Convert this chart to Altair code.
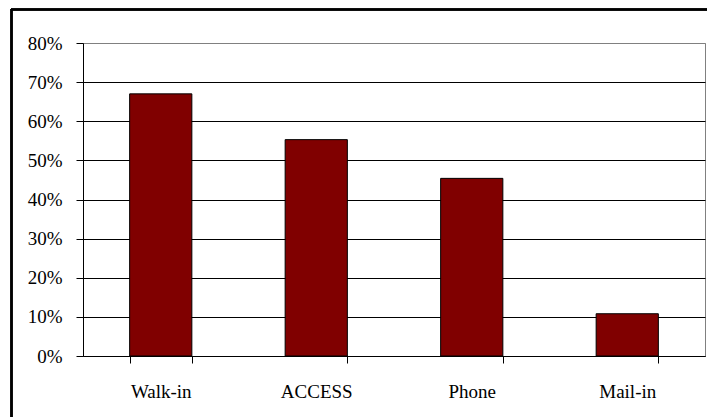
import altair as alt
import pandas as pd

categories = ["Walk-in", "ACCESS", "Phone", "Mail-in"]
shares = [0.670, 0.553, 0.454, 0.108]

df = pd.DataFrame({"channel": categories, "share": shares})

FONT = "Liberation Serif"

bars = alt.Chart(df).mark_bar(
    color="#800000", stroke="black", strokeWidth=1
).encode(
    x=alt.X(
        "channel:N",
        sort=categories,
        title=None,
        scale=alt.Scale(paddingInner=0.6, paddingOuter=0.3),
        axis=alt.Axis(
            labelAngle=0,
            tickBand="extent",
            tickSize=7,
            tickColor="black",
            domainColor="black",
            labelPadding=19,
            labelFont=FONT,
            labelFontSize=19,
            labelColor="black",
            grid=False,
        ),
    ),
    y=alt.Y(
        "share:Q",
        title=None,
        scale=alt.Scale(domain=[0, 0.8], nice=False),
        axis=alt.Axis(
            format=".0%",
            values=[0, 0.1, 0.2, 0.3, 0.4, 0.5, 0.6, 0.7, 0.8],
            tickSize=7,
            tickColor="black",
            domainColor="black",
            gridColor={"condition": {"test": "datum.value >= 0.79", "value": "#808080"}, "value": "black"},
            gridOpacity=1,
            gridWidth=1,
            labelPadding=14,
            labelFont=FONT,
            labelFontSize=19,
            labelColor="black",
        ),
    ),
)

border_top = alt.Chart(df).mark_rule(color="black", strokeWidth=2, clip=False).encode(
    x=alt.value(-72), x2=alt.value(720), y=alt.value(-33.5)
)
border_left = alt.Chart(df).mark_rule(color="black", strokeWidth=2, clip=False).encode(
    x=alt.value(-71.5), y=alt.value(-34), y2=alt.value(400)
)

chart = alt.layer(bars, border_top, border_left).properties(
    width=622,
    height=313,
    autosize=alt.AutoSizeParams(type="none"),
    padding={"left": 83, "top": 43, "right": 2, "bottom": 61},
    background="white",
).configure_view(stroke="#808080", strokeWidth=1)

chart.save("out.html", embed_options={"renderer": "svg", "actions": False})
